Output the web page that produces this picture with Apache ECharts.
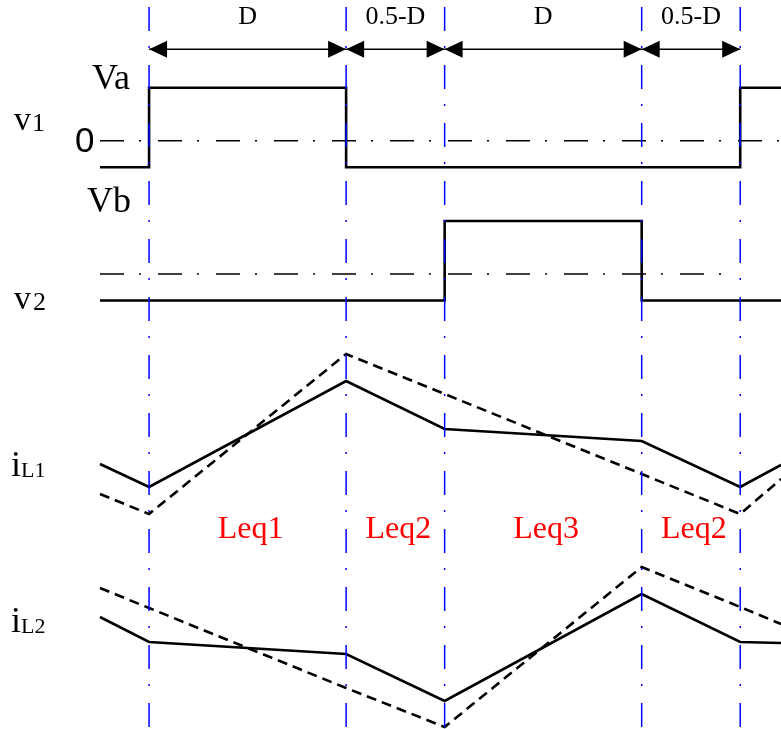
<!DOCTYPE html>
<html>
<head>
<meta charset="utf-8">
<script src="https://cdn.jsdelivr.net/npm/echarts@6/dist/echarts.min.js"></script>
<style>
  html, body { margin: 0; padding: 0; background: #fff; }
  #chart { width: 781px; height: 729px; }
</style>
</head>
<body>
<div id="chart"></div>
<script>
// Switching instants over one normalized period (duty D)
const D = 1 / 3;
const switchTimes = [0, D, 0.5, 0.5 + D, 1];
const tStart = -0.083;
const tEnd = 1.069;

// Interval annotations
const spanBounds = [[0, D], [D, 0.5], [0.5, 0.5 + D], [0.5 + D, 1]];
const spanLabels = ['D', '0.5-D', 'D', '0.5-D'];
const leqLabels = ['Leq1', 'Leq2', 'Leq3', 'Leq2'];

// Bridge voltages as step edges (Va, Vb normalised to 1)
const v1Times = [tStart, 0, D, 1, tEnd];
const v1Levels = [-0.5, 1, -0.5, 1, 1];
const v2Times = [tStart, 0.5, 0.5 + D, tEnd];
const v2Levels = [-0.5, 1, -0.5, -0.5];
const v2RefEnd = 0.975;

// Inductor currents (arbitrary units) at tStart, switching instants, tEnd
const currentTimes = [tStart, 0, D, 0.5, 0.5 + D, 1, tEnd];
const iL1Solid  = [5.6, 3.3, 13.9, 9.1, 7.9, 3.3, 5.5];
const iL1Dashed = [2.6, 0.6, 16.6, 12.6, 4.6, 0.6, 4.1];
const iL2Solid  = [12.3, 9.8, 8.6, 3.9, 14.6, 9.8, 9.7];
const iL2Dashed = [15.2, 13.2, 5.2, 1.3, 17.3, 13.3, 11.6];

const zip = (xs, ys) => xs.map((x, i) => [x, ys[i]]);

const SERIF = '"Liberation Serif", "Times New Roman", serif';
const SANS = '"Liberation Sans", Arial, sans-serif';
const DASH_DOT = [24, 15, 2, 17];

// Grid bands: frame, dimension arrows, v1, v2, iL1, iL2
const grids = [
  { left: 100, right: 0, top: 0, height: 729 },
  { left: 100, right: 0, top: 39.3, height: 20 },
  { left: 100, right: 0, top: 61.2, height: 132.5 },
  { left: 100, right: 0, top: 194.5, height: 132.5 },
  { left: 100, right: 0, top: 320, height: 220 },
  { left: 100, right: 0, top: 540, height: 189 }
];
const yRanges = [[0, 1], [-1, 1], [-1, 1.5], [-1, 1.5], [-2, 20], [1.1, 20]];

const xAxes = grids.map((g, i) => ({
  type: 'value', gridIndex: i, min: tStart, max: tEnd, show: false
}));
const yAxes = yRanges.map((r, i) => ({
  type: 'value', gridIndex: i, min: r[0], max: r[1], show: false
}));

function waveLine(gridIdx, data, opts) {
  return Object.assign({
    type: 'line',
    xAxisIndex: gridIdx,
    yAxisIndex: gridIdx,
    data: data,
    symbol: 'none',
    silent: true,
    animation: false,
    clip: false,
    z: 3
  }, opts);
}

const solidStyle = { color: '#000', width: 2.6, join: 'miter', cap: 'butt' };
const dashedStyle = { color: '#000', width: 2.6, type: [10, 6], join: 'miter', cap: 'butt' };

function refLine(gridIdx, data) {
  return {
    type: 'custom',
    xAxisIndex: gridIdx,
    yAxisIndex: gridIdx,
    data: data,
    silent: true,
    animation: false,
    z: 2,
    renderItem: (params, api) => {
      const a = api.coord([api.value(0), 0]);
      const b = api.coord([api.value(1), 0]);
      return {
        type: 'line',
        shape: { x1: a[0], y1: a[1], x2: b[0], y2: b[1] },
        style: { stroke: '#000', lineWidth: 1.4, lineDash: DASH_DOT }
      };
    }
  };
}

const option = {
  backgroundColor: '#fff',
  animation: false,
  grid: grids,
  xAxis: xAxes,
  yAxis: yAxes,
  series: [
    // switching-instant markers
    {
      type: 'custom',
      xAxisIndex: 0,
      yAxisIndex: 0,
      data: switchTimes.map(t => [t]),
      silent: true,
      animation: false,
      z: 10,
      renderItem: (params, api) => {
        const top = api.coord([api.value(0), 1]);
        const bot = api.coord([api.value(0), 0]);
        return {
          type: 'line',
          shape: { x1: top[0], y1: top[1], x2: bot[0], y2: bot[1] },
          style: { stroke: '#0000ff', lineWidth: 1.5, lineDash: DASH_DOT, lineDashOffset: 51 }
        };
      }
    },
    // dimension arrows with interval names
    {
      type: 'custom',
      xAxisIndex: 1,
      yAxisIndex: 1,
      data: spanBounds,
      silent: true,
      animation: false,
      z: 5,
      renderItem: (params, api) => {
        const a = api.coord([api.value(0), 0]);
        const b = api.coord([api.value(1), 0]);
        const L = 18, W = 8.5;
        return {
          type: 'group',
          children: [
            { type: 'line', shape: { x1: a[0], y1: a[1], x2: b[0], y2: b[1] },
              style: { stroke: '#000', lineWidth: 1.6 } },
            { type: 'polygon', shape: { points: [[a[0], a[1]], [a[0] + L, a[1] - W], [a[0] + L, a[1] + W]] },
              style: { fill: '#000' } },
            { type: 'polygon', shape: { points: [[b[0], b[1]], [b[0] - L, b[1] - W], [b[0] - L, b[1] + W]] },
              style: { fill: '#000' } },
            { type: 'text', x: (a[0] + b[0]) / 2, y: a[1] - 32,
              style: { text: spanLabels[params.dataIndex], align: 'center', verticalAlign: 'middle',
                       font: '26px ' + SERIF, fill: '#000' } }
          ]
        };
      }
    },
    // v1
    refLine(2, [[tStart, tEnd]]),
    waveLine(2, zip(v1Times, v1Levels), { step: 'end', lineStyle: solidStyle }),
    // v2
    refLine(3, [[tStart, v2RefEnd]]),
    waveLine(3, zip(v2Times, v2Levels), { step: 'end', lineStyle: solidStyle }),
    // iL1
    waveLine(4, zip(currentTimes, iL1Solid), { lineStyle: solidStyle }),
    waveLine(4, zip(currentTimes, iL1Dashed), { lineStyle: dashedStyle }),
    // equivalent inductance per interval
    {
      type: 'custom',
      xAxisIndex: 4,
      yAxisIndex: 4,
      data: spanBounds,
      silent: true,
      animation: false,
      z: 5,
      renderItem: (params, api) => {
        const p = api.coord([(api.value(0) + api.value(1)) / 2, -1]);
        return {
          type: 'text', x: p[0] + 3, y: p[1],
          style: { text: leqLabels[params.dataIndex], align: 'center', verticalAlign: 'middle',
                   font: '32px ' + SERIF, fill: '#ff0000' }
        };
      }
    },
    // iL2
    waveLine(5, zip(currentTimes, iL2Solid), { lineStyle: solidStyle }),
    waveLine(5, zip(currentTimes, iL2Dashed), { lineStyle: dashedStyle })
  ],
  graphic: [
    { type: 'text', x: 92, y: 79.8, style: { text: 'Va', font: '36px ' + SERIF, fill: '#000', verticalAlign: 'middle' } },
    { type: 'text', x: 75, y: 141.9, style: { text: '0', font: '35px ' + SANS, fill: '#000', verticalAlign: 'middle' } },
    { type: 'text', x: 14, y: 121.4, style: { text: 'v', font: '34px ' + SERIF, fill: '#000', verticalAlign: 'middle' } },
    { type: 'text', x: 32, y: 124.2, style: { text: '1', font: '26px ' + SERIF, fill: '#000', verticalAlign: 'middle' } },
    { type: 'text', x: 87, y: 202.8, style: { text: 'Vb', font: '36px ' + SERIF, fill: '#000', verticalAlign: 'middle' } },
    { type: 'text', x: 14, y: 300.4, style: { text: 'v', font: '34px ' + SERIF, fill: '#000', verticalAlign: 'middle' } },
    { type: 'text', x: 33, y: 303.2, style: { text: '2', font: '26px ' + SERIF, fill: '#000', verticalAlign: 'middle' } },
    { type: 'text', x: 11, y: 466.8, style: { text: 'i', font: '36px ' + SERIF, fill: '#000', verticalAlign: 'middle' } },
    { type: 'text', x: 21, y: 471.5, style: { text: 'L1', font: '22px ' + SERIF, fill: '#000', verticalAlign: 'middle' } },
    { type: 'text', x: 11, y: 622.8, style: { text: 'i', font: '36px ' + SERIF, fill: '#000', verticalAlign: 'middle' } },
    { type: 'text', x: 21, y: 627.5, style: { text: 'L2', font: '22px ' + SERIF, fill: '#000', verticalAlign: 'middle' } }
  ]
};

const chart = echarts.init(document.getElementById('chart'), null, { renderer: 'canvas' });
chart.setOption(option);
</script>
</body>
</html>
